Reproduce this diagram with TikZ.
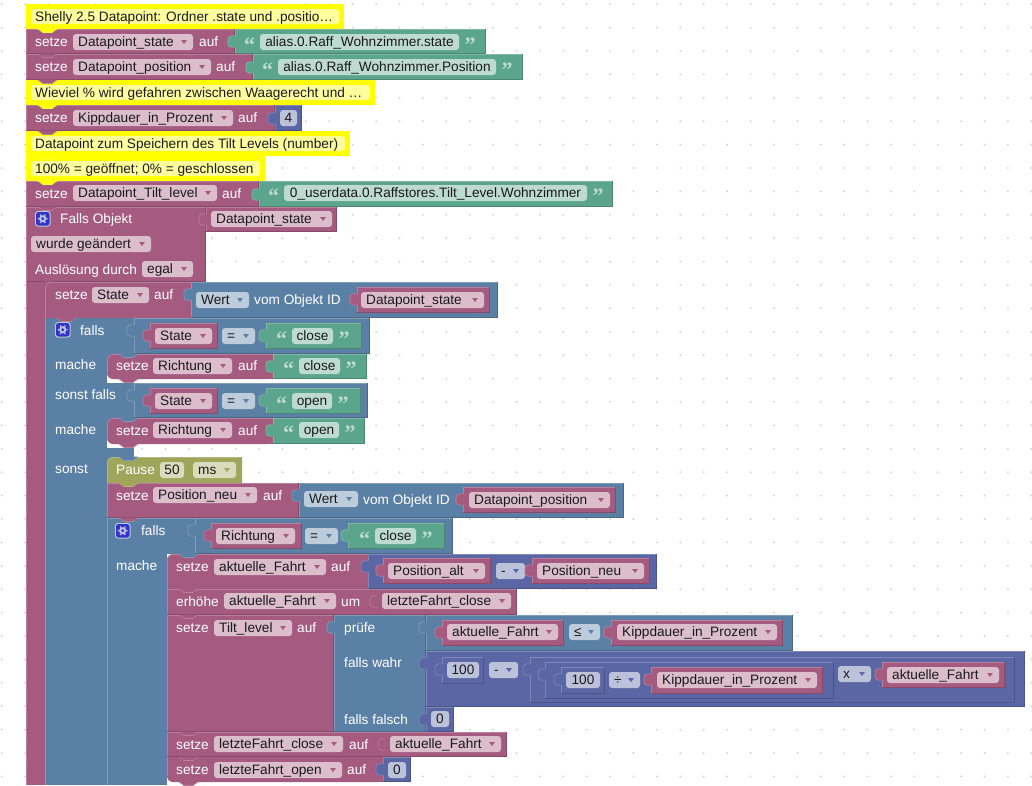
\documentclass[tikz,border=0pt]{standalone}
\usepackage{fontspec}
\setmainfont{Liberation Sans}
\newfontfamily\qfont{Liberation Serif}
\definecolor{cP}{HTML}{A55B80}
\definecolor{cB}{HTML}{5B80A5}
\definecolor{cG}{HTML}{5BA58C}
\definecolor{cM}{HTML}{5B67A5}
\definecolor{cO}{HTML}{9FA55B}
\definecolor{fP}{HTML}{DBBDCC}
\definecolor{fB}{HTML}{BDCCDB}
\definecolor{fG}{HTML}{BDDBD1}
\definecolor{fM}{HTML}{BDC2DB}
\definecolor{fO}{HTML}{D9DBBD}
\definecolor{cY}{HTML}{FFFF00}
\definecolor{fY}{HTML}{FFFF9E}
\definecolor{tD}{HTML}{1A1A1A}
\definecolor{dotc}{HTML}{D2D2D2}
\definecolor{gearb}{HTML}{3232C8}
\newcommand{\blk}[5]{% colour x1 y1 x2 y2
  \fill[#1] (#2,#3) rectangle (#4,#5);
  \draw[#1!78!white,line width=.8pt] (#2+.4,#5-.4) -- (#2+.4,#3+.4) -- (#4-.4,#3+.4);
  \draw[#1!82!black,line width=.8pt] (#2+.4,#5-.4) -- (#4-.4,#5-.4) -- (#4-.4,#3+.4);}
\newcommand{\rblk}[5]{% block with a rounded top-left corner
  \fill[#1] (#2,#5) [rounded corners=6pt] -- (#2,#3) [sharp corners] -- (#4,#3) -- (#4,#5) -- cycle;
  \draw[#1!78!white,line width=.8pt] (#2+.4,#5) [rounded corners=6pt] -- (#2+.4,#3+.4) [sharp corners] -- (#4,#3+.4);}
\newcommand{\rrblk}[5]{% block with rounded left corners, white showing below
  \fill[white] (#2,#5-6) rectangle (#2+27,#5+3.5);
  \fill[#1,rounded corners=6pt] (#4,#3) -- (#2,#3) -- (#2,#5) -- (#4,#5) [sharp corners] -- cycle;
  \fill[#1] (#4-20,#3) rectangle (#4,#5);
  \draw[#1!78!white,line width=.8pt] (#2+.4,#5-6) [rounded corners=6pt] -- (#2+.4,#3+.4) [sharp corners] -- (#4,#3+.4);}
\newcommand{\ctab}[3]{% colour x y : tab of the block above, reaching into the one below
  \fill[#1] (#2+12,#3-.5) -- (#2+17,#3+3.5) -- (#2+26,#3+3.5) -- (#2+31,#3-.5) -- cycle;
  \draw[#1!78!white,line width=.6pt] (#2+12,#3) -- (#2+17,#3+3.5) -- (#2+26,#3+3.5) -- (#2+31,#3);}
\newcommand{\sock}[3]{% colour x y : tab of a value block
  \fill[#1] (#2+1,#3+5) .. controls (#2-4,#3+4) and (#2-7,#3+6) .. (#2-7,#3+8)
     -- (#2-7,#3+13) .. controls (#2-7,#3+15) and (#2-4,#3+17) .. (#2+1,#3+16) -- cycle;
  \draw[#1!78!white,line width=.7pt] (#2,#3+5) .. controls (#2-4,#3+4) and (#2-7,#3+6) .. (#2-7,#3+8)
     -- (#2-7,#3+13) .. controls (#2-7,#3+15) and (#2-4,#3+17) .. (#2,#3+16);}
\newcommand{\lbl}[3]{\node[wtxt] at (#1,#2) {#3};}
\newcommand{\dd}[6]{% fieldcol arrowcol x1 cy x2 text
  \fill[#1,rounded corners=3pt] (#3,#4-8) rectangle (#5,#4+8);
  \node[dtxt] at (#3+5,#4+4.7) {#6};
  \fill[#2] (#5-12,#4-2) -- (#5-6,#4-2) -- (#5-9,#4+2) -- cycle;}
\newcommand{\fld}[5]{% fieldcol x1 cy x2 text
  \fill[#1,rounded corners=3pt] (#2,#3-8) rectangle (#4,#3+8);
  \node[dtxt,anchor=base] at ({(#2+#4)/2},#3+4.7) {#5};}
\newcommand{\qstr}[4]{% x1 cy x2 text : text field between quote marks
  \node[qtxt] at (#1-10.5,#2+10.5) {“};
  \fld{fG}{#1}{#2}{#3}{#4}
  \node[qtxt] at (#3+11,#2+10.5) {”};}
\newcommand{\gear}[2]{%
  \fill[fB,rounded corners=3pt] (#1,#2) rectangle (#1+15.5,#2+15.5);
  \fill[gearb,rounded corners=2.5pt] (#1+1,#2+1) rectangle (#1+14.5,#2+14.5);
  \foreach \aa in {0,60,...,300}{\fill[fM] (#1+7.75,#2+7.75) ++(\aa:4.3) circle (.9);}
  \fill[fM] (#1+7.75,#2+7.75) circle (3.7);
  \fill[gearb] (#1+7.75,#2+7.75) circle (1.6);}
\newcommand{\cmt}[6]{% x1 y1 x2 y2 inner-right text
  \fill[cY] (#1,#2) rectangle (#3,#4);
  \fill[fY,rounded corners=3pt] (#1+5,#2+5) rectangle (#5,#4-5);
  \node[dtxt] at (#1+9,#2+17) {#6};}
\tikzset{
  wtxt/.style={anchor=base west,inner sep=0pt,text=white,font=\fontsize{13.65}{14}\selectfont},
  dtxt/.style={anchor=base west,inner sep=0pt,text=tD,font=\fontsize{13.65}{14}\selectfont},
  qtxt/.style={anchor=base,inner sep=0pt,text=fG,font=\qfont\bfseries\fontsize{22}{22}\selectfont}
}
\begin{document}
\begin{tikzpicture}[x=1pt,y=-1pt]
\useasboundingbox (0,0) rectangle (1032,785);
\fill[white] (0,0) rectangle (1032,785);
% workspace dots
\foreach \i in {0,...,44}{\foreach \j in {0,...,33}{\fill[dotc] (1.7+23.4*\i,4.2+23.4*\j) circle (1.05);}}
% comment 1 and the first statements
\cmt{26}{4}{344}{29}{339}{Shelly 2.5 Datapoint: Ordner .state und .positio…}
% row 1
\blk{cP}{26}{29}{235}{54}
\blk{cG}{235}{29}{486}{54}
\sock{cG}{235}{31}
\lbl{35}{46}{setze}\dd{fP}{cP}{73}{42}{193}{Datapoint\_state}\lbl{199}{46}{auf}
\qstr{260}{42}{459}{alias.0.Raff\_Wohnzimmer.state}
% row 2
\blk{cP}{26}{54}{253}{80}
\blk{cG}{253}{54}{523}{80}
\sock{cG}{253}{57}
\lbl{35}{71}{setze}\dd{fP}{cP}{73}{67}{211}{Datapoint\_position}\lbl{216}{71}{auf}
\qstr{278}{67}{496}{alias.0.Raff\_Wohnzimmer.Position}
% comment
\cmt{26}{80}{375}{105}{370}{Wieviel \% wird gefahren zwischen Waagerecht und …}
% row 4
\blk{cP}{26}{105}{275}{131}
\blk{cM}{275}{105}{302}{131}
\sock{cM}{275}{108}
\lbl{35}{122}{setze}\dd{fP}{cP}{73}{118}{233}{Kippdauer\_in\_Prozent}\lbl{238}{122}{auf}
\fld{fM}{280}{118}{297}{4}
% comments
\cmt{26}{131}{350}{156}{345}{Datapoint zum Speichern des Tilt Levels (number)}
\cmt{26}{156}{265}{181}{260}{100\% = geöffnet; 0\% = geschlossen}
% row 7
\blk{cP}{26}{181}{259}{207}
\blk{cG}{259}{181}{613}{207}
\sock{cG}{259}{184}
\lbl{35}{198}{setze}\dd{fP}{cP}{73}{193}{217}{Datapoint\_Tilt\_level}\lbl{222}{198}{auf}
\qstr{284}{193}{587}{0\_userdata.0.Raffstores.Tilt\_Level.Wohnzimmer}
% event block
\blk{cP}{26}{207}{206}{282}
\fill[cP] (26,282) rectangle (45,785);
\fill[cP] (45,281) rectangle (52,289);
\draw[cP!78!white,line width=.8pt] (26.4,207) -- (26.4,785);
\blk{cP}{206}{207}{337}{232}
\sock{cP}{206}{209}
\gear{35}{211}\lbl{60}{223}{Falls Objekt}\dd{fP}{cP}{211}{219}{332}{Datapoint\_state}
\dd{fP}{cP}{31}{244}{151}{wurde geändert}
\lbl{35}{274}{Auslösung durch}\dd{fP}{cP}{142}{269}{193}{egal}
% blue outer if : column
\fill[cB] (45,318) rectangle (107,785);
\fill[cB] (107,318) rectangle (134,457);
\fill[cB] (107,457) rectangle (113,463);
\draw[cB!78!white,line width=.8pt] (45.4,318) -- (45.4,785);
% setze State
\rblk{cP}{45}{282}{191}{318}
\blk{cB}{191}{282}{498}{318}
\sock{cB}{191}{284}
\lbl{55}{299}{setze}\dd{fP}{cP}{92}{295}{149}{State}\lbl{154}{299}{auf}
\dd{fB}{cB}{196}{300}{249}{Wert}\lbl{254}{304}{vom Objekt ID}
\blk{cP}{357}{287}{490}{313}
\sock{cP}{357}{289}
\dd{fP}{cP}{361}{300}{484}{Datapoint\_state}
% falls
\gear{55}{322}\lbl{80}{335}{falls}
\blk{cB}{134}{318}{370}{354}
\sock{cB}{134}{320}
\blk{cP}{150}{323}{218}{349}\sock{cP}{150}{325}
\dd{fP}{cP}{155}{336}{212}{State}
\dd{fB}{cB}{222}{336}{255}{=}
\blk{cG}{266}{323}{362}{349}\sock{cG}{266}{325}
\qstr{292}{336}{333}{close}
\lbl{55}{369}{mache}
\rrblk{cP}{107}{354}{273}{379}
\blk{cG}{273}{354}{367}{379}
\sock{cG}{273}{356}
\lbl{116}{370}{setze}\dd{fP}{cP}{153}{366}{232}{Richtung}\lbl{238}{370}{auf}
\qstr{299}{366}{340}{close}
% sonst falls
\lbl{55}{399}{sonst falls}
\blk{cB}{134}{383}{368}{418}
\sock{cB}{134}{385}
\blk{cP}{150}{388}{218}{414}\sock{cP}{150}{390}
\dd{fP}{cP}{155}{401}{212}{State}
\dd{fB}{cB}{222}{401}{255}{=}
\blk{cG}{266}{388}{361}{414}\sock{cG}{266}{390}
\qstr{292}{401}{332}{open}
\lbl{55}{434}{mache}
\rrblk{cP}{107}{418}{273}{444}
\blk{cG}{273}{418}{365}{444}
\sock{cG}{273}{420}
\lbl{116}{435}{setze}\dd{fP}{cP}{153}{430}{232}{Richtung}\lbl{238}{435}{auf}
\qstr{299}{430}{339}{open}
% sonst
\lbl{55}{473}{sonst}
\rblk{cO}{107}{457}{242}{483}
\lbl{116}{474}{Pause}\fld{fO}{160}{470}{184}{50}\dd{fO}{cO}{193}{470}{236}{ms}
% Position_neu
\blk{cP}{107}{483}{299}{518}
\blk{cB}{299}{483}{624}{518}
\sock{cB}{299}{485}
\lbl{116}{500}{setze}\dd{fP}{cP}{153}{495}{257}{Position\_neu}\lbl{263}{500}{auf}
\dd{fB}{cB}{304}{499}{358}{Wert}\lbl{363}{504}{vom Objekt ID}
\blk{cP}{463}{487}{616}{513}\sock{cP}{463}{489}
\dd{fP}{cP}{469}{500}{610}{Datapoint\_position}
% inner falls
\fill[cB] (107,518) rectangle (167,785);
\fill[cB] (167,518) rectangle (195,554);
\draw[cB!78!white,line width=.8pt] (107.4,785) -- (107.4,518.4) -- (195,518.4);
\gear{115}{523}\lbl{141}{535}{falls}
\blk{cB}{195}{518}{453}{554}
\sock{cB}{195}{520}
\blk{cP}{211}{523}{302}{549}\sock{cP}{211}{525}
\dd{fP}{cP}{216}{536}{295}{Richtung}
\dd{fB}{cB}{305}{536}{338}{=}
\blk{cG}{348}{523}{445}{549}\sock{cG}{348}{525}
\qstr{375}{536}{416}{close}
\lbl{116}{570}{mache}
% aktuelle_Fahrt
\rblk{cP}{167}{554}{368}{589}
\blk{cM}{368}{554}{657}{589}
\sock{cM}{368}{556}
\lbl{176}{571}{setze}\dd{fP}{cP}{214}{567}{326}{aktuelle\_Fahrt}\lbl{331}{571}{auf}
\blk{cP}{383}{558}{491}{584}\sock{cP}{383}{560}
\dd{fP}{cP}{388}{571}{485}{Position\_alt}
\dd{fM}{cM}{496}{571}{525}{-}
\blk{cP}{532}{558}{650}{584}\sock{cP}{532}{560}
\dd{fP}{cP}{537}{571}{644}{Position\_neu}
% erhoehe
\blk{cP}{167}{589}{517}{615}
\sock{cP}{377}{591}
\lbl{176}{606}{erhöhe}\dd{fP}{cP}{224}{601}{336}{aktuelle\_Fahrt}\lbl{341}{606}{um}
\dd{fP}{cP}{382}{601}{511}{letzteFahrt\_close}
% Tilt_level
\blk{cP}{167}{615}{334}{732}
\blk{cB}{334}{615}{426}{732}
\sock{cB}{334}{617}
\lbl{176}{632}{setze}\dd{fP}{cP}{214}{628}{292}{Tilt\_level}\lbl{297}{632}{auf}
\lbl{344}{632}{prüfe}\lbl{344}{667}{falls wahr}\lbl{344}{724}{falls falsch}
% pruefe condition
\blk{cB}{426}{615}{793}{651}
\sock{cB}{426}{617}
\blk{cP}{442}{620}{564}{646}\sock{cP}{442}{622}
\dd{fP}{cP}{447}{632}{558}{aktuelle\_Fahrt}
\dd{fB}{cB}{569}{632}{600}{≤}
\blk{cP}{611}{620}{783}{646}\sock{cP}{611}{622}
\dd{fP}{cP}{617}{632}{777}{Kippdauer\_in\_Prozent}
% falls wahr
\blk{cM}{426}{651}{1025}{707}
\sock{cM}{426}{653}
\blk{cM}{442}{657}{484}{684}\sock{cM}{442}{659}
\fld{fM}{447}{670}{479}{100}
\dd{fM}{cM}{489}{670}{518}{-}
\blk{cM}{530}{657}{1015}{703}\sock{cM}{530}{659}
\blk{cM}{545}{662}{834}{699}\sock{cM}{545}{664}
\blk{cM}{561}{667}{605}{694}\sock{cM}{561}{669}
\fld{fM}{566}{680}{600}{100}
\dd{fM}{cM}{609}{680}{640}{÷}
\blk{cP}{651}{667}{823}{694}\sock{cP}{651}{669}
\dd{fP}{cP}{657}{680}{817}{Kippdauer\_in\_Prozent}
\dd{fM}{cM}{838}{674}{871}{x}
\blk{cP}{882}{662}{1005}{688}\sock{cP}{882}{664}
\dd{fP}{cP}{887}{675}{999}{aktuelle\_Fahrt}
% falls falsch
\blk{cM}{426}{707}{454}{732}
\sock{cM}{426}{709}
\fld{fM}{431}{719}{449}{0}
% letzteFahrt_close
\blk{cP}{167}{732}{507}{757}
\sock{cP}{385}{734}
\lbl{176}{749}{setze}\dd{fP}{cP}{214}{744}{343}{letzteFahrt\_close}\lbl{349}{749}{auf}
\dd{fP}{cP}{390}{744}{501}{aktuelle\_Fahrt}
% letzteFahrt_open
\fill[white] (167,776) rectangle (195,785);
\fill[cP,rounded corners=6pt] (383,757) -- (167,757) -- (167,782) -- (383,782) [sharp corners] -- cycle;
\fill[cP] (167,757) rectangle (383,770);
\fill[cP] (200,770) rectangle (383,782);
\draw[cP!78!white,line width=.8pt] (167.4,757) -- (167.4,776);
\blk{cM}{383}{757}{411}{782}
\sock{cM}{383}{759}
\lbl{176}{774}{setze}\dd{fP}{cP}{214}{770}{342}{letzteFahrt\_open}\lbl{347}{774}{auf}
\fld{fM}{388}{770}{406}{0}
% statement tabs
\ctab{cY}{26}{29}\ctab{cP}{26}{54}\ctab{cP}{26}{80}\ctab{cY}{26}{105}\ctab{cP}{26}{131}
\ctab{cY}{26}{156}\ctab{cY}{26}{181}\ctab{cP}{26}{207}
\ctab{cP}{45}{318}\ctab{cB}{107}{354}\ctab{cP}{107}{379}\ctab{cB}{107}{418}\ctab{cP}{107}{444}
\ctab{cB}{107}{457}\ctab{cO}{107}{483}\ctab{cP}{107}{518}\ctab{cB}{167}{554}\ctab{cP}{167}{589}
\ctab{cP}{167}{615}\ctab{cP}{167}{732}\ctab{cP}{167}{757}\ctab{cP}{167}{782}
\end{tikzpicture}
\end{document}
